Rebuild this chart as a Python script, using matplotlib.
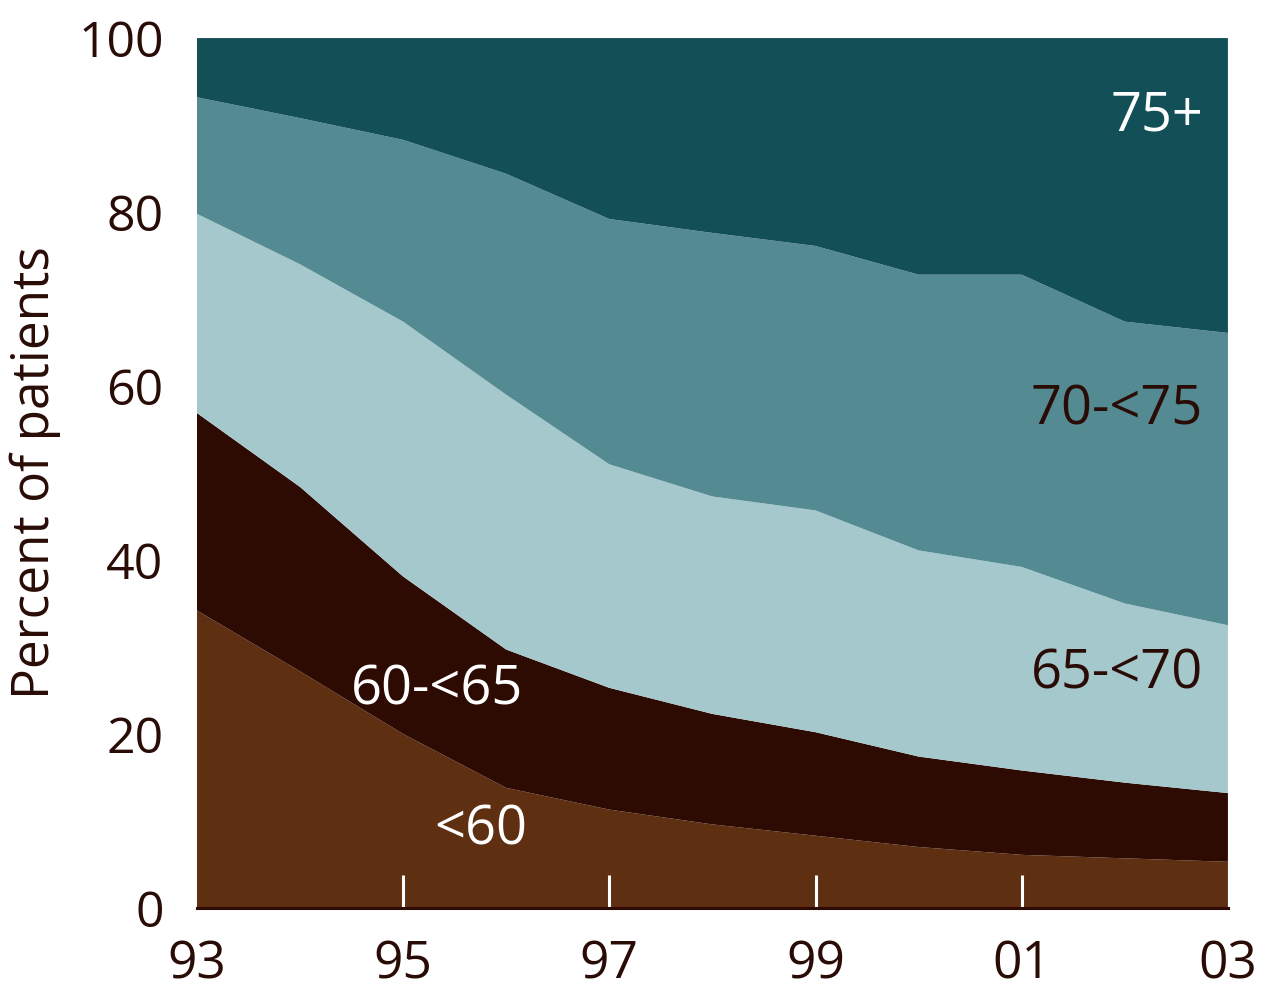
import matplotlib
matplotlib.use("Agg")
import matplotlib.pyplot as plt

years = [1993, 1994, 1995, 1996, 1997, 1998, 1999, 2000, 2001, 2002, 2003]
age_lt60 = [34.2, 27.2, 20.0, 13.8, 11.3, 9.6, 8.3, 7.0, 6.1, 5.7, 5.3]
age_60_65 = [22.7, 21.2, 18.1, 15.9, 14.0, 12.7, 11.9, 10.4, 9.7, 8.7, 7.9]
age_65_70 = [22.9, 25.6, 29.3, 29.3, 25.7, 25.0, 25.5, 23.7, 23.4, 20.6, 19.3]
age_70_75 = [13.4, 16.8, 20.9, 25.4, 28.2, 30.3, 30.4, 31.7, 33.6, 32.4, 33.6]
age_75p = [6.8, 9.2, 11.7, 15.6, 20.8, 22.4, 23.9, 27.2, 27.2, 32.6, 33.9]

group_labels = ["<60", "60-<65", "65-<70", "70-<75", "75+"]
xtick_years = [1993, 1995, 1997, 1999, 2001, 2003]
xtick_labels = ["93", "95", "97", "99", "01", "03"]
yticks = [0, 20, 40, 60, 80, 100]

colors = ["#5f2f12", "#2d0a02", "#a5c8cc", "#548a92", "#134f56"]
text_dark = "#2a0c07"

plt.rcParams["font.family"] = ["Open Sans", "DejaVu Sans"]

fig = plt.figure(figsize=(12.62, 9.89), dpi=100)
ax = fig.add_axes([0.156, 0.082, 0.817, 0.8795])

ax.stackplot(years, age_lt60, age_60_65, age_65_70, age_70_75, age_75p,
             colors=colors, linewidth=0)

ax.set_xlim(1993, 2003)
ax.set_ylim(0, 100)

ax.set_xticks(xtick_years)
ax.set_xticklabels(xtick_labels)
ax.tick_params(axis="x", which="major", direction="in", length=24, width=2.2,
               color="white", pad=23, labelsize=37, labelcolor=text_dark)
xt = ax.xaxis.get_major_ticks()
xt[0].tick1line.set_visible(False)
xt[-1].tick1line.set_visible(False)
ax.set_yticks(yticks)
ax.tick_params(axis="y", length=0, pad=24, labelsize=36, labelcolor=text_dark)

for s in ["top", "right", "left"]:
    ax.spines[s].set_visible(False)
ax.spines["bottom"].set_color("#2d0a02")
ax.spines["bottom"].set_linewidth(2.2)
ax.spines["bottom"].set_zorder(3)

ax.set_ylabel("Percent of patients", fontsize=37, color=text_dark, labelpad=12)

fs = 39
ax.text(1995.75, 9.0, group_labels[0], color="white", fontsize=fs, ha="center", va="center")
ax.text(1995.33, 25.0, group_labels[1], color="white", fontsize=fs, ha="center", va="center")
ax.text(2001.92, 26.9, group_labels[2], color=text_dark, fontsize=fs, ha="center", va="center")
ax.text(2001.92, 57.2, group_labels[3], color=text_dark, fontsize=fs, ha="center", va="center")
ax.text(2002.31, 91.0, group_labels[4], color="white", fontsize=fs, ha="center", va="center")

fig.savefig("out.png", dpi=100)
